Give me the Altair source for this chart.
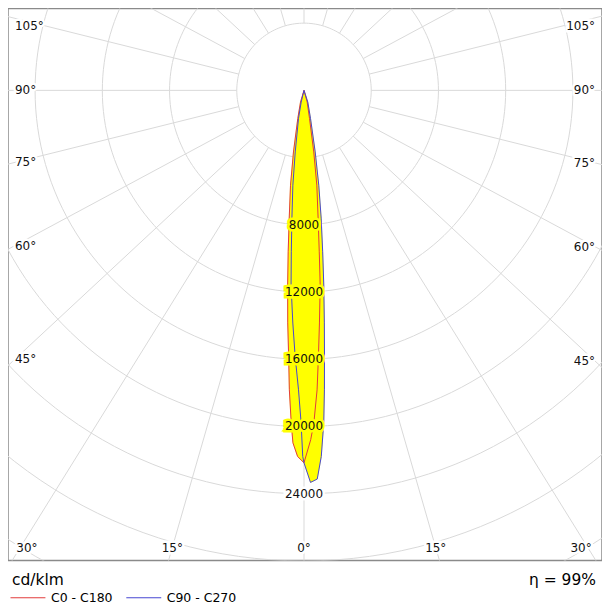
import math
import altair as alt
import pandas as pd

# ---------------- data ----------------
# C0 - C180 plane: gamma in degrees (negative = C180 half), intensity in cd/klm
c0_gamma = [-180, -16.7, -12.4, -9.7, -8.1, -6.6, -5.6, -4.8, -4.0, -3.3, -2.8, -2.2, -1.8, -1.0,
            0, 1.1, 1.7, 2.5, 3.1, 3.8, 4.75, 5.4, 6.3, 7.7, 9.0, 11.1, 15.3, 180]
c0_int = [0, 725, 1720, 3720, 5700, 7650, 9650, 11620, 13870, 15870, 17840, 19800, 20980, 21790,
          22160, 20790, 19790, 17840, 15870, 13870, 11620, 9650, 7650, 5690, 3710, 1695, 720, 0]
# C90 - C270 plane: gamma in degrees (negative = C270 half), intensity in cd/klm
c90_gamma = [-180, -13.5, -11.1, -8.1, -6.7, -5.4, -4.5, -3.8, -2.75, -1.9, -1.05, -0.5, -0.2,
             0, 0.95, 1.95, 2.7, 3.4, 3.9, 4.4, 5.0, 5.8, 6.6, 7.65, 8.85, 10.3, 13.1, 18.0, 180]
c90_int = [0, 715, 1695, 3700, 5680, 7640, 9635, 11610, 13860, 15850, 17820, 19780, 21780,
           22160, 23330, 23140, 21810, 19820, 17860, 15890, 13890, 11640, 9670, 7670, 5710, 3725, 1705, 730, 0]

plane_names = ["C0 - C180", "C90 - C270"]
plane_colors = ["#e23b3b", "#4646d2"]
ring_values = [4000, 8000, 12000, 16000, 20000, 24000, 28000, 32000, 36000]
ring_labels = [8000, 12000, 16000, 20000, 24000]
ring_label_bg = ["#ffff00", "#ffff00", "#ffff00", "#ffff00", "#ffffff"]
angle_ticks = [0, 15, 30, 45, 60, 75, 90, 105]
grid_angles = list(range(0, 360, 15))
unit_text = "cd/klm"
eta_text = "η = 99%"

# ---------------- geometry / layout ----------------
FONT = "DejaVu Sans"
S = 59.4            # cd/klm per pixel
W, H = 595, 553     # plot area
CX, CY = 296.5, 82  # pole position inside the plot area (px)
K = 0.93            # vertical squeeze of the radial grid lines in the reference
XMIN, XMAX = -CX * S, (W - CX) * S
YMAX, YMIN = CY * S, -(H - CY) * S


def polar(g, i):
    r = math.radians(g)
    return i * math.sin(r), -i * math.cos(r)


curve_rows = []
for name, gs, iv in [(plane_names[0], c0_gamma, c0_int), (plane_names[1], c90_gamma, c90_int)]:
    for n, (g, i) in enumerate(zip(gs, iv)):
        x, y = polar(g, i)
        curve_rows.append({"plane": name, "i": n, "x": x, "y": y})
curves = pd.DataFrame(curve_rows)

ring_rows = []
for r in ring_values:
    for n, t in enumerate(range(0, 361, 2)):
        a = math.radians(t)
        ring_rows.append({"r": r, "i": n, "x": r * math.cos(a), "y": r * math.sin(a)})
rings = pd.DataFrame(ring_rows)

spoke_rows = []
for a in grid_angles:
    rad = math.radians(a)
    dx, dy = math.sin(rad), -K * math.cos(rad)
    n = math.hypot(dx, dy)
    dx, dy = dx / n, dy / n
    spoke_rows.append({"x": 4000 * dx, "y": 4000 * dy, "x2": 60000 * dx, "y2": 60000 * dy})
spokes = pd.DataFrame(spoke_rows)

lab_rows = []
for a in angle_ticks:
    for side in ([1] if a == 0 else [-1, 1]):
        rad = math.radians(a)
        dx, dy = side * math.sin(rad), -K * math.cos(rad)
        if a >= 45:
            x = XMIN + 7 * S if side < 0 else XMAX - 7 * S
            y = dy * (x / dx)
            y = min(y, YMAX - 18 * S)
            align = "left" if side < 0 else "right"
        else:
            y = YMIN + 13 * S
            x = dx * (y / dy) if a else 0.0
            x = max(min(x, XMAX - 21 * S), XMIN + 19 * S)
            align = "center"
        lab_rows.append({"x": x, "y": y, "t": f"{a}°", "align": align})
angle_labels = pd.DataFrame(lab_rows)

ring_lab = pd.DataFrame({"x": [0.0] * len(ring_labels), "y": [-v for v in ring_labels],
                         "t": [str(v) for v in ring_labels], "bg": ring_label_bg})

xs = alt.Scale(domain=[XMIN, XMAX], nice=False, zero=False)
ys = alt.Scale(domain=[YMIN, YMAX], nice=False, zero=False)
X = lambda f="x": alt.X(f"{f}:Q", scale=xs, axis=None)
Y = lambda f="y": alt.Y(f"{f}:Q", scale=ys, axis=None)

grid_col = "#d9d9d9"

ring_layer = alt.Chart(rings).mark_line(color=grid_col, strokeWidth=1, clip=True).encode(
    x=X(), y=Y(), detail="r:N", order="i:Q")

spoke_layer = alt.Chart(spokes).mark_rule(color=grid_col, strokeWidth=1, clip=True).encode(
    x=X(), y=Y(), x2="x2:Q", y2="y2:Q")

fill_layer = alt.Chart(curves).mark_line(fill="#ffff00", stroke="#ffff00", strokeWidth=0.5).encode(
    x=X(), y=Y(), detail="plane:N", order="i:Q")

curve_layer = alt.Chart(curves).mark_line(strokeWidth=1).encode(
    x=X(), y=Y(), order="i:Q",
    color=alt.Color("plane:N",
                    scale=alt.Scale(domain=plane_names, range=plane_colors),
                    legend=alt.Legend(title=None, orient="none", legendX=2, legendY=572,
                                      direction="horizontal", symbolType="stroke",
                                      symbolSize=1225, symbolStrokeWidth=1,
                                      labelFont=FONT, labelFontSize=12.5, labelColor="#000",
                                      labelOffset=5, columnPadding=11)))

text_layers = []
for al in ["left", "center", "right"]:
    base = alt.Chart(angle_labels).transform_filter(alt.datum.align == al)
    text_layers.append(base.mark_text(align=al, baseline="middle", font=FONT, fontSize=12,
                                      stroke="white", strokeWidth=5, fill="white").encode(
        x=X(), y=Y(), text="t:N"))
    text_layers.append(base.mark_text(align=al, baseline="middle", font=FONT, fontSize=12,
                                      color="#111").encode(x=X(), y=Y(), text="t:N"))

ring_halo = alt.Chart(ring_lab).mark_text(align="center", baseline="middle", font=FONT,
                                          fontSize=12, strokeWidth=5).encode(
    x=X(), y=Y(), text="t:N", stroke=alt.Stroke("bg:N", scale=None),
    fill=alt.Fill("bg:N", scale=None))
ring_text = alt.Chart(ring_lab).mark_text(align="center", baseline="middle", font=FONT,
                                          fontSize=12, color="#111").encode(
    x=X(), y=Y(), text="t:N")

footer = pd.DataFrame({"t": [unit_text, eta_text], "side": ["left", "right"]})
unit_layer = alt.Chart(footer).transform_filter(alt.datum.side == "left").mark_text(
    align="left", baseline="middle", font=FONT, fontSize=15.5, color="#000").encode(
    x=alt.value(4), y=alt.value(572), text="t:N")
eta_layer = alt.Chart(footer).transform_filter(alt.datum.side == "right").mark_text(
    align="right", baseline="middle", font=FONT, fontSize=15.5, color="#000").encode(
    x=alt.value(589), y=alt.value(572), text="t:N")

chart = alt.layer(ring_layer, spoke_layer, fill_layer, curve_layer, *text_layers,
                  ring_halo, ring_text, unit_layer, eta_layer).properties(
    width=W, height=H, padding=0,
).configure_view(stroke="#8a8a8a", strokeWidth=1.5)

chart.save("out.html", embed_options={"renderer": "svg", "actions": False})
